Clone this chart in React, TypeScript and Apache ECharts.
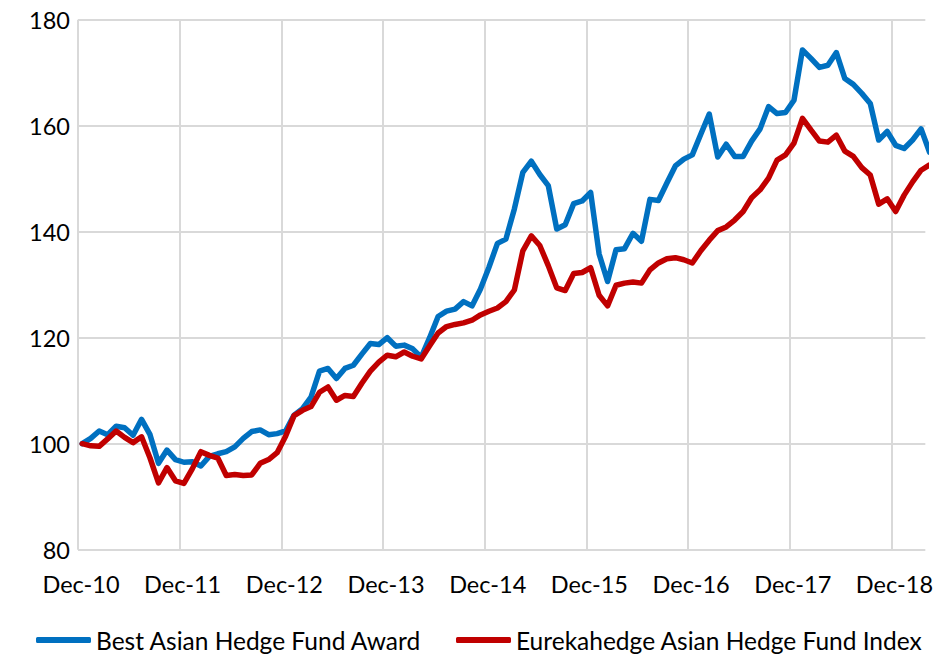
import React, { useEffect, useRef } from "react";
import * as echarts from "echarts";

// Month index 0 = Dec-10, one point per month up to Apr-19
const tickLabels = ["Dec-10", "Dec-11", "Dec-12", "Dec-13", "Dec-14", "Dec-15", "Dec-16", "Dec-17", "Dec-18"];

const seriesNames = ["Best Asian Hedge Fund Award", "Eurekahedge Asian Hedge Fund Index"];

const bestAsianAward = [
  100.0, 101.0, 102.4, 101.7, 103.3, 103.0, 101.6, 104.6, 101.7, 96.3, 98.8, 97.0,
  96.5, 96.6, 95.8, 97.6, 98.1, 98.5, 99.4, 101.0, 102.3, 102.6, 101.7, 101.9,
  102.4, 105.4, 106.6, 108.8, 113.7, 114.2, 112.3, 114.2, 114.8, 116.9, 118.9, 118.7,
  120.0, 118.4, 118.6, 117.9, 116.3, 120.0, 124.0, 125.0, 125.4, 126.8, 126.0, 129.2,
  133.3, 137.8, 138.6, 144.3, 151.2, 153.3, 150.8, 148.7, 140.5, 141.3, 145.3, 145.8,
  147.4, 135.8, 130.6, 136.6, 136.8, 139.7, 138.2, 146.1, 145.9, 149.2, 152.4, 153.7,
  154.5, 158.4, 162.2, 154.1, 156.5, 154.2, 154.2, 157.1, 159.4, 163.6, 162.3, 162.5,
  164.8, 174.3, 172.7, 171.0, 171.4, 173.8, 168.9, 167.8, 166.1, 164.2, 157.3, 158.9,
  156.3, 155.7, 157.3, 159.4, 155.0,
];

const eurekahedgeIndex = [
  100.0, 99.6, 99.5, 100.9, 102.4, 101.2, 100.2, 101.3, 97.3, 92.6, 95.5, 93.0,
  92.5, 95.3, 98.5, 97.8, 97.3, 94.0, 94.2, 94.0, 94.1, 96.3, 97.0, 98.3,
  101.4, 105.3, 106.3, 107.0, 109.7, 110.7, 108.2, 109.1, 108.9, 111.4, 113.7, 115.4,
  116.7, 116.4, 117.3, 116.5, 116.0, 118.5, 120.9, 122.1, 122.5, 122.8, 123.3, 124.3,
  125.0, 125.6, 126.8, 129.0, 136.4, 139.2, 137.4, 133.6, 129.4, 128.9, 132.1, 132.3,
  133.2, 128.0, 126.0, 129.9, 130.3, 130.5, 130.3, 132.8, 134.1, 134.9, 135.1, 134.7,
  134.1, 136.4, 138.4, 140.2, 140.9, 142.2, 143.8, 146.4, 147.9, 150.1, 153.5, 154.5,
  156.7, 161.4, 159.2, 157.1, 156.9, 158.2, 155.2, 154.2, 152.1, 150.7, 145.2, 146.2,
  143.8, 146.9, 149.4, 151.6, 152.6,
];

const FONT = "Lato, 'Open Sans', sans-serif";
const GRID_COLOR = "#d9d9d9";

export default function App() {
  const ref = useRef<HTMLDivElement>(null);

  useEffect(() => {
    if (!ref.current) return;
    const chart = echarts.init(ref.current, undefined, { renderer: "svg" });
    const yearTicks = tickLabels.map((_, k) => k * 12 - 0.5);

    const legendCommon = {
      top: 626,
      padding: 0,
      icon: "roundRect",
      itemWidth: 55,
      itemHeight: 6,
      textStyle: { fontFamily: FONT, fontSize: 24.5, color: "#000", lineHeight: 28 },
      selectedMode: false,
    };

    chart.setOption({
      animation: false,
      textStyle: { fontFamily: FONT },
      grid: { left: 78, right: 10.5, top: 19.7, bottom: 104.3 },
      legend: [
        { ...legendCommon, left: 36, data: [seriesNames[0]] },
        { ...legendCommon, left: 456, data: [seriesNames[1]] },
      ],
      xAxis: {
        type: "value",
        min: -0.5,
        max: 99.5,
        interval: 12,
        axisLine: { show: false },
        axisTick: { show: false },
        splitLine: { show: false },
        axisLabel: {
          margin: 22,
          fontFamily: FONT,
          fontSize: 23.5,
          color: "#000",
          padding: [0, 0, 0, 6],
          formatter: (v: number) => {
            const k = Math.round((v + 0.5) / 12);
            return Math.abs(k * 12 - 0.5 - v) < 1e-6 && k < tickLabels.length ? tickLabels[k] : "";
          },
        },
      },
      yAxis: {
        type: "value",
        min: 80,
        max: 180,
        interval: 20,
        axisLine: { show: false },
        axisTick: { show: false },
        splitLine: { lineStyle: { color: GRID_COLOR, width: 2 } },
        axisLabel: { margin: 8, fontFamily: FONT, fontSize: 23.5, color: "#000" },
      },
      series: [
        {
          name: seriesNames[0],
          type: "line",
          data: bestAsianAward.map((v, i) => [i, v]),
          showSymbol: false,
          symbol: "none",
          clip: true,
          z: 3,
          color: "#0070C0",
          lineStyle: { color: "#0070C0", width: 5.5, cap: "round", join: "round" },
          markLine: {
            silent: true,
            symbol: "none",
            z: 1,
            label: { show: false },
            lineStyle: { color: GRID_COLOR, width: 2, type: "solid" },
            data: yearTicks.map((x) => ({ xAxis: x })),
          },
        },
        {
          name: seriesNames[1],
          type: "line",
          data: eurekahedgeIndex.map((v, i) => [i, v]),
          showSymbol: false,
          symbol: "none",
          clip: true,
          z: 4,
          color: "#C00000",
          lineStyle: { color: "#C00000", width: 5.5, cap: "round", join: "round" },
        },
      ],
    });
    return () => chart.dispose();
  }, []);

  return (
    <div
      ref={ref}
      style={{ position: "absolute", left: 0, top: 0, width: 936, height: 654, background: "#fff" }}
    />
  );
}
